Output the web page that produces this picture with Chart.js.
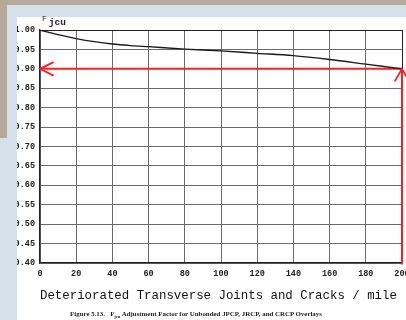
<!DOCTYPE html>
<html>
<head>
<meta charset="utf-8">
<script src="https://cdn.jsdelivr.net/npm/chart.js@4"></script>
<style>
  html, body { margin: 0; padding: 0; }
  body { width: 406px; height: 320px; background: #d4e1ea; position: relative; overflow: hidden; }
  #bandTop { position: absolute; left: 0; top: 0; width: 406px; height: 5px; background: #b5a999; }
  #bandLeft { position: absolute; left: 0; top: 0; width: 7px; height: 138px; background: #b5a999; }
  #panel { position: absolute; left: 17px; top: 17px; width: 389px; height: 303px; background: #fff; }
  #chart { position: absolute; left: 0; top: 0; }
  #ylab { position: absolute; left: 25px; top: -4px; font-family: "Liberation Mono", monospace; color: #222; white-space: nowrap; line-height: 12px; }
  #ylab .f { font-size: 8px; position: relative; top: -2px; }
  #ylab .s { font-size: 9.5px; font-weight: bold; position: relative; top: 2px; margin-left: 2px; }
  #caption { position: absolute; left: 0; width: 358px; top: 293px; text-align: center; font-family: "Liberation Serif", serif; font-weight: bold; font-size: 6.9px; color: #222; white-space: pre; }
  #caption sub { font-size: 4.5px; }
</style>
</head>
<body>
<div id="bandTop"></div>
<div id="bandLeft"></div>
<div id="panel">
  <canvas id="chart" width="389" height="303"></canvas>
  <div id="ylab"><span class="f">F</span><span class="s">jcu</span></div>
  <div id="caption">Figure 5.13.   F<sub>jcu</sub> Adjustment Factor for Unbonded JPCP, JRCP, and CRCP Overlays</div>
</div>
<script>
// Deteriorated transverse joints and cracks per mile
const cracksPerMile = [0, 10, 20, 30, 40, 50, 60, 80, 100, 120, 140, 160, 180, 200];
// F_jcu adjustment factor
const adjustmentFactor = [1.000, 0.988, 0.978, 0.970, 0.964, 0.960, 0.957, 0.951, 0.946, 0.940, 0.934, 0.924, 0.912, 0.900];
// worked example: 200 cracks/mile -> factor 0.90
const exampleCracks = 200;
const exampleFactor = 0.90;
const xTicks = [0, 20, 40, 60, 80, 100, 120, 140, 160, 180, 200];
const yMin = 0.40, yMax = 1.00, yStep = 0.05;
const xTitle = 'Deteriorated Transverse Joints and Cracks / mile';

const RED = '#ff1f1f';
const tickFont = { family: 'Liberation Mono', size: 8.5, weight: 'bold' };

// arrow heads at the ends of the example lines
const arrowHeads = {
  id: 'arrowHeads',
  afterDatasetsDraw(chart) {
    const { ctx, scales: { x, y } } = chart;
    const px = x.getPixelForValue(0), py = y.getPixelForValue(exampleFactor);
    const vx = x.getPixelForValue(exampleCracks);
    ctx.save();
    ctx.strokeStyle = RED;
    ctx.lineWidth = 1.8;
    ctx.lineCap = 'round';
    ctx.beginPath();
    ctx.moveTo(px + 13, py - 6.5); ctx.lineTo(px, py); ctx.lineTo(px + 13, py + 6.5);
    ctx.moveTo(vx - 7, py + 12); ctx.lineTo(vx, py); ctx.lineTo(vx + 7, py + 12);
    ctx.stroke();
    ctx.restore();
  }
};

new Chart(document.getElementById('chart'), {
  type: 'line',
  data: {
    datasets: [
      {
        data: cracksPerMile.map((c, i) => ({ x: c, y: adjustmentFactor[i] })),
        borderColor: '#1a1a1a', borderWidth: 1.3, pointRadius: 0,
        cubicInterpolationMode: 'monotone', fill: false
      },
      {
        data: [{ x: 0, y: exampleFactor }, { x: exampleCracks, y: exampleFactor }],
        borderColor: RED, borderWidth: 2, pointRadius: 0, fill: false
      },
      {
        data: [{ x: exampleCracks, y: yMin - 0.004 }, { x: exampleCracks, y: exampleFactor }],
        borderColor: RED, borderWidth: 2, pointRadius: 0, fill: false, clip: false
      }
    ]
  },
  options: {
    responsive: false,
    animation: false,
    devicePixelRatio: 1,
    layout: { padding: { top: 13, right: 4, left: 0, bottom: 0 } },
    plugins: { legend: { display: false }, tooltip: { enabled: false } },
    scales: {
      x: {
        type: 'linear', min: 0, max: 200,
        afterBuildTicks: s => { s.ticks = xTicks.map(v => ({ value: v })); },
        afterFit: s => { s.height = 57; s.paddingLeft = 0; s.paddingRight = 0; },
        grid: {
          drawTicks: false, lineWidth: 1,
          color: c => (c.tick && (c.tick.value === 200)) ? '#222' : '#6a6a6a'
        },
        border: { color: '#222', width: 1.3 },
        ticks: { padding: 6, color: '#222', font: tickFont, maxRotation: 0, autoSkip: false },
        title: {
          display: true, text: xTitle, color: '#111', align: 'start',
          font: { family: 'Liberation Mono', size: 12.4 },
          padding: { top: 0, bottom: 17 }
        }
      },
      y: {
        type: 'linear', min: yMin, max: yMax,
        ticks: { stepSize: yStep, padding: 5, color: '#222', font: tickFont, callback: v => v.toFixed(2) },
        afterFit: s => { s.width = 23; },
        grid: {
          drawTicks: false, lineWidth: 1,
          color: c => (c.tick && Math.abs(c.tick.value - yMax) < 1e-6) ? '#222' : '#6a6a6a'
        },
        border: { color: '#222', width: 1.3 }
      }
    }
  },
  plugins: [arrowHeads]
});
</script>
</body>
</html>
